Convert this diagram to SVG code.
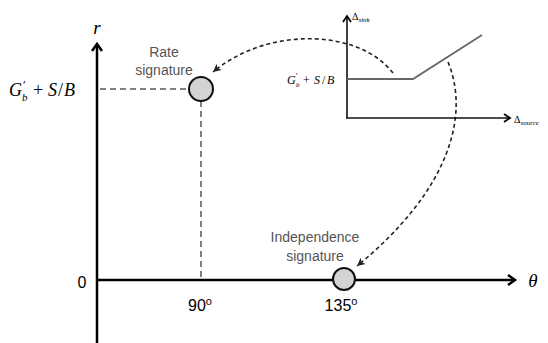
<svg xmlns="http://www.w3.org/2000/svg" width="548" height="343" viewBox="0 0 548 343">
<style>
.ax{stroke:#000;stroke-width:2.5;fill:none}
.iax{stroke:#111;stroke-width:1.6;fill:none}
.guide{stroke:#555;stroke-width:1.5;stroke-dasharray:6,4;fill:none}
.curve{stroke:#222;stroke-width:1.6;stroke-dasharray:4,3;fill:none}
.node{fill:#d3d3d3;stroke:#111;stroke-width:2}
.lbl{font-family:"Liberation Sans",Arial,sans-serif;font-size:14px;fill:#555;text-anchor:middle}
.num{font-family:"Liberation Sans",Arial,sans-serif;font-size:16px;fill:#000;text-anchor:middle}
.math{font-family:"Liberation Serif","Times New Roman",serif;font-style:italic;fill:#000}
.rm{font-family:"Liberation Serif","Times New Roman",serif;fill:#000}
</style>
<defs>
<marker id="big" markerWidth="12" markerHeight="12" refX="9" refY="6" orient="auto" markerUnits="userSpaceOnUse">
<path d="M2,1 L9,6 L2,11" fill="none" stroke="#000" stroke-width="2.5"/>
</marker>
<marker id="small" markerWidth="10" markerHeight="10" refX="7" refY="5" orient="auto" markerUnits="userSpaceOnUse">
<path d="M1,1 L7,5 L1,9" fill="none" stroke="#000" stroke-width="1.8"/>
</marker>
<marker id="dash" markerWidth="10" markerHeight="10" refX="8" refY="5" orient="auto" markerUnits="userSpaceOnUse">
<path d="M0,1 L8,5 L0,9 L2,5 Z" fill="#222"/>
</marker>
</defs>

<g id="axes">
<line class="ax" x1="97" y1="343" x2="97" y2="44" marker-end="url(#big)"/>
<line class="ax" x1="97" y1="280" x2="515" y2="280" marker-end="url(#big)"/>
<text class="math" x="97" y="34" font-size="19" text-anchor="middle">r</text>
<text class="math" x="533" y="287" font-size="19" text-anchor="middle">θ</text>
<text class="num" x="82" y="288">0</text>
<text class="math" x="9" y="96" font-size="18">G</text>
<text class="rm" x="23" y="89" font-size="12">′</text>
<text class="math" x="22" y="101" font-size="11">b</text>
<text class="rm" x="33" y="96" font-size="18">+</text>
<text class="math" x="48" y="96" font-size="18">S</text>
<text class="rm" x="58" y="96" font-size="18">/</text>
<text class="math" x="64" y="96" font-size="18">B</text>
</g>

<g id="connectors">
<line class="guide" x1="100" y1="89" x2="190" y2="89"/>
<line class="guide" x1="201" y1="101" x2="201" y2="280"/>
<path class="curve" d="M393,73 C360,30 270,25 213,72" marker-end="url(#dash)"/>
<path class="curve" d="M448,62 C470,115 450,190 357,266" marker-end="url(#dash)"/>
</g>

<g id="rate-signature">
<circle class="node" cx="201" cy="89" r="12"/>
<text class="lbl" x="164" y="57">Rate</text>
<text class="lbl" x="164" y="75">signature</text>
<text class="num" x="200" y="311">90<tspan font-size="11" dy="-6">o</tspan></text>
</g>

<g id="independence-signature">
<circle class="node" cx="344" cy="279" r="11"/>
<text class="lbl" x="315" y="242">Independence</text>
<text class="lbl" x="315" y="261">signature</text>
<text class="num" x="341" y="311">135<tspan font-size="11" dy="-6">o</tspan></text>
</g>

<g id="inset">
<line class="iax" x1="347" y1="118" x2="347" y2="16" marker-end="url(#small)"/>
<line class="iax" x1="346" y1="118" x2="510" y2="118" marker-end="url(#small)"/>
<polyline points="347,79 413,79 482,35" fill="none" stroke="#666" stroke-width="1.8"/>
<text class="rm" font-size="10" x="352" y="20">Δ<tspan class="math" font-size="7" dy="2">sink</tspan></text>
<text class="rm" font-size="10" x="514" y="123">Δ<tspan class="math" font-size="7" dy="2">source</tspan></text>
<text class="math" x="287" y="84" font-size="12">G</text>
<text class="rm" x="296" y="79" font-size="8">′</text>
<text class="math" x="296" y="87" font-size="7">b</text>
<text class="rm" x="303" y="84" font-size="12">+</text>
<text class="math" x="314" y="84" font-size="12">S</text>
<text class="rm" x="322" y="84" font-size="12">/</text>
<text class="math" x="327" y="84" font-size="12">B</text>
</g>
</svg>
